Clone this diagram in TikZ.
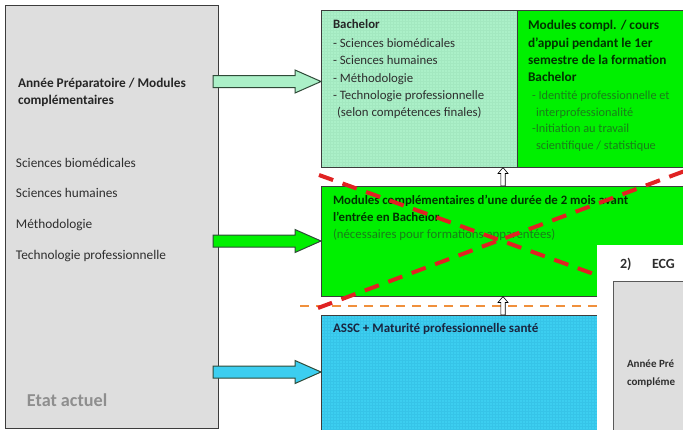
\documentclass[tikz,border=0pt]{standalone}
\usepackage{fontspec}
\setmainfont{Carlito}
\usetikzlibrary{calc}
\definecolor{boxgray}{HTML}{DEDEDE}
\definecolor{mint}{HTML}{ABF0C8}
\definecolor{mintgrid}{HTML}{A3E8C0}
\definecolor{vgreen}{HTML}{00F000}
\definecolor{cyanb}{HTML}{3CCEF0}
\definecolor{cyangrid}{HTML}{36C4E8}
\definecolor{redx}{HTML}{E02222}
\definecolor{orangel}{HTML}{F0903C}
\definecolor{dgreentext}{HTML}{1A7C1A}
\definecolor{edge}{HTML}{3C3C3C}
\definecolor{txt}{HTML}{2E2E2E}
\definecolor{navytxt}{HTML}{1A2640}
\definecolor{etatgray}{HTML}{8E8E8E}
\definecolor{arrowedge}{HTML}{2F4A38}
\newcommand\blockarr[4]{% fill colour, start x, tip x, centre y
  \filldraw[fill=#1,draw=arrowedge,line width=1pt,line join=miter]
    (#2,#4-6) -- (#3-26,#4-6) -- (#3-26,#4-11.5) -- (#3,#4) -- (#3-26,#4+11.5)
    -- (#3-26,#4+6) -- (#2,#4+6) -- cycle;}
\newcommand\hollowup[3]{% x, top y, bottom y
  \filldraw[fill=white,draw=black,line width=0.6pt]
    (#1,#2) -- (#1+5,#2+6) -- (#1+2.2,#2+6) -- (#1+2.2,#3) -- (#1-2.2,#3)
    -- (#1-2.2,#2+6) -- (#1-5,#2+6) -- cycle;}
\tikzset{
  box/.style={rectangle,draw=edge,line width=1pt,inner sep=0pt,outer sep=0pt,anchor=north west},
  txt/.style={anchor=base west,inner sep=0pt,outer sep=0pt,text=txt},
}
\begin{document}
\begin{tikzpicture}[x=1pt,y=-1pt]
\useasboundingbox (0,0) rectangle (683,429);
\begin{scope}
\clip (0,0) rectangle (683,429);
\fill[white] (0,0) rectangle (683,429);
% boxes
\node[box,fill=boxgray,minimum width=213pt,minimum height=423pt] (left) at (5,5) {};
\node[box,fill=mint,minimum width=196pt,minimum height=157pt] (bach) at (321,10) {};
\begin{scope}
  \clip (321,10) rectangle (517,167);
  \draw[mintgrid,line width=0.3pt,step=3pt] (321,10) grid (517,167);
\end{scope}
\node[box,fill=vgreen,minimum width=180pt,minimum height=157pt] (compl) at (517,10) {};
\node[box,fill=vgreen,minimum width=380pt,minimum height=110pt] (mod) at (321,186) {};
\node[box,fill=cyanb,minimum width=380pt,minimum height=130pt] (assc) at (321,315) {};
\begin{scope}
  \clip (321,315) rectangle (700,440);
  \draw[cyangrid,line width=0.3pt,step=3pt] (321,315) grid (700,440);
\end{scope}
\draw[edge,line width=1pt] (bach.north west) rectangle (bach.south east);
\draw[edge,line width=1pt] (assc.north west) -- (assc.north east);
\draw[edge,line width=1pt] (assc.north west) -- (assc.south west);
% block arrows from left box
\blockarr{mint}{213}{321}{81.5}
\blockarr{vgreen}{213}{321}{241}
\blockarr{cyanb}{213}{321}{372}
% left texts
\node[txt,font=\fontsize{13.3}{15}\selectfont\bfseries,text=black!85] (l1) at (18,87) {Année Préparatoire / Modules};
\node[txt,font=\fontsize{13.3}{15}\selectfont\bfseries,text=black!85] (l2) at (18,104) {complémentaires};
\node[txt,font=\fontsize{13.3}{15}\selectfont] (l3) at (16,167) {Sciences biomédicales};
\node[txt,font=\fontsize{13.3}{15}\selectfont] (l4) at (16,197) {Sciences humaines};
\node[txt,font=\fontsize{13.3}{15}\selectfont] (l5) at (16,228) {Méthodologie};
\node[txt,font=\fontsize{13.3}{15}\selectfont] (l6) at (16,259) {Technologie professionnelle};
\node[txt,font=\fontsize{18.2}{20}\selectfont\bfseries,text=etatgray] (etat) at (27,406) {Etat actuel};
% bachelor texts
\node[txt,font=\fontsize{12.8}{15}\selectfont\bfseries,text=black!85] (b1) at (333,28) {Bachelor};
\node[txt,font=\fontsize{12.8}{15}\selectfont] (b2) at (333,47) {- Sciences biomédicales};
\node[txt,font=\fontsize{12.8}{15}\selectfont] (b3) at (333,64) {- Sciences humaines};
\node[txt,font=\fontsize{12.8}{15}\selectfont] (b4) at (333,82) {- Méthodologie};
\node[txt,font=\fontsize{12.8}{15}\selectfont] (b5) at (333,99) {- Technologie professionnelle};
\node[txt,font=\fontsize{12.8}{15}\selectfont] (b6) at (337,116) {(selon compétences finales)};
% complementary modules texts
\node[txt,font=\fontsize{13.3}{15}\selectfont\bfseries,text=black!80!green] (c1) at (528,29) {Modules compl. / cours};
\node[txt,font=\fontsize{13.3}{15}\selectfont\bfseries,text=black!80!green] (c2) at (528,47) {d’appui pendant le 1er};
\node[txt,font=\fontsize{13.3}{15}\selectfont\bfseries,text=black!80!green] (c3) at (528,64) {semestre de la formation};
\node[txt,font=\fontsize{13.3}{15}\selectfont\bfseries,text=black!80!green] (c4) at (528,81) {Bachelor};
\node[txt,font=\fontsize{12.3}{15}\selectfont,text=dgreentext] (c5) at (532,99) {- Identité professionnelle et};
\node[txt,font=\fontsize{12.3}{15}\selectfont,text=dgreentext] (c6) at (536,116) {interprofessionalité};
\node[txt,font=\fontsize{12.3}{15}\selectfont,text=dgreentext] (c7) at (532,132) {-Initiation au travail};
\node[txt,font=\fontsize{12.3}{15}\selectfont,text=dgreentext] (c8) at (536,149) {scientifique / statistique};
% middle texts
\node[txt,font=\fontsize{12.8}{15}\selectfont\bfseries,text=black!80!green] (m1) at (333,204) {Modules complémentaires d’une durée de 2 mois avant};
\node[txt,font=\fontsize{12.8}{15}\selectfont\bfseries,text=black!80!green] (m2) at (333,221) {l’entrée en Bachelor};
\node[txt,font=\fontsize{12.8}{15}\selectfont,text=dgreentext] (m3) at (333,238) {(nécessaires pour formations apparentées)};
% assc text
\node[txt,font=\fontsize{13}{15}\selectfont\bfseries,text=navytxt] (a1) at (333,332) {ASSC + Maturité professionnelle santé};
% orange dashed separator
\coordinate (os) at (300,306);
\coordinate (oe) at (610,306);
\draw[orangel,line width=2.8pt,dash pattern=on 9pt off 7pt] (os) -- (oe);
% hollow up arrows
\hollowup{503}{167.5}{186}
\hollowup{503}{296.5}{315}
% red cross
\coordinate (r1s) at (319,175);
\coordinate (r1e) at (605,278);
\coordinate (r2s) at (318,308);
\coordinate (r2e) at (690,169);
\draw[redx,line width=4pt,dash pattern=on 15pt off 10pt] (r1s) -- (r1e);
\draw[redx,line width=4pt,dash pattern=on 15pt off 10pt] (r2s) -- (r2e);
% ECG overlay
\node[rectangle,fill=white,inner sep=0pt,outer sep=0pt,anchor=north west,minimum width=100pt,minimum height=200pt] (ecg) at (597,245) {};
\node[txt,font=\fontsize{14}{16}\selectfont\bfseries] (e1) at (620,268) {2)};
\node[txt,font=\fontsize{14}{16}\selectfont\bfseries] (e2) at (652,268) {ECG};
\node[box,fill=boxgray,draw=black!65,minimum width=90pt,minimum height=170pt] (ecgbox) at (613,281) {};
\node[txt,font=\fontsize{11}{13}\selectfont\bfseries] (e3) at (627,367) {Année Pré};
\node[txt,font=\fontsize{11}{13}\selectfont\bfseries] (e4) at (627,385) {compléme};
\end{scope}
\end{tikzpicture}
\end{document}
